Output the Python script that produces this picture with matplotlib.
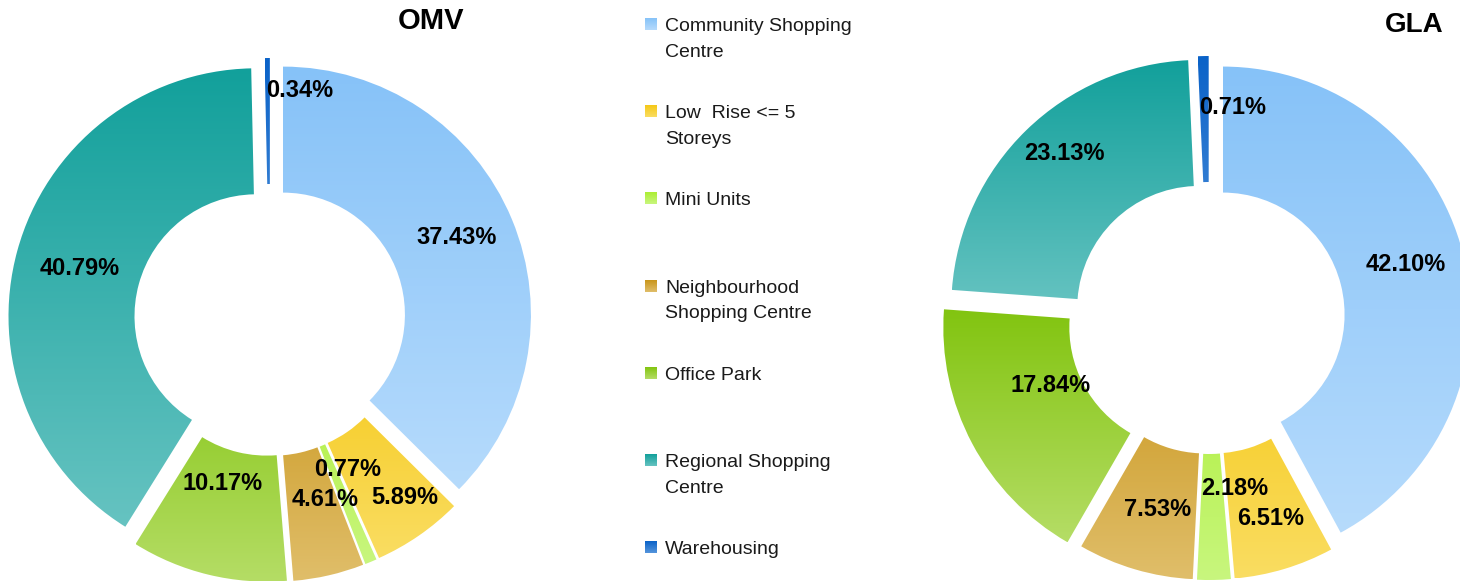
import matplotlib
matplotlib.use("Agg")
import matplotlib.pyplot as plt
import numpy as np
from matplotlib.colors import LinearSegmentedColormap
from matplotlib.patches import Rectangle

plt.rcParams["font.family"] = ["Liberation Sans", "DejaVu Sans"]

# data
categories = [
    "Community Shopping\nCentre",
    "Low  Rise <= 5\nStoreys",
    "Mini Units",
    "Neighbourhood\nShopping Centre",
    "Office Park",
    "Regional Shopping\nCentre",
    "Warehousing",
]
omv_pct = [37.43, 5.89, 0.77, 4.61, 10.17, 40.79, 0.34]
gla_pct = [42.10, 6.51, 2.18, 7.53, 17.84, 23.13, 0.71]

# gradient colours (top, bottom) per category
GRADIENTS = [
    ("#86c2f8", "#b6dbfc"),
    ("#f5c816", "#fadd62"),
    ("#acee33", "#c8f67e"),
    ("#c9951a", "#e0be6a"),
    ("#82c410", "#b5dd66"),
    ("#12a09b", "#66c3c1"),
    ("#0a62c8", "#5595dc"),
]

W, H = 1460, 581
R = 248
HOLE = 122
LABEL_R = 0.76

# pixel nudges for the percent labels (x, y up)
OMV_NUDGE = [(0, 5), (20, -11), (0, 37), (10, 18), (0, 33), (5, -2), (32, 27)]
GLA_NUDGE = [(0, 4), (3, -7), (22, 32), (6, 3), (26, 30), (-3, 19), (28, 8)]


def gradient_fill(ax, patch, top, bottom, verts=None):
    if verts is None:
        verts = patch.get_path().vertices
    x0, y0 = verts.min(axis=0)
    x1, y1 = verts.max(axis=0)
    cmap = LinearSegmentedColormap.from_list("g", [bottom, top])
    grad = np.linspace(0, 1, 256).reshape(-1, 1)
    im = ax.imshow(grad, cmap=cmap, extent=(x0, x1, y0, y1), origin="lower",
                   aspect="auto", interpolation="bilinear", zorder=1)
    im.set_clip_path(patch)


def donut(ax, values, center, explode, nudges):
    wedges, _ = ax.pie(values, radius=R, center=center, startangle=90,
                       counterclock=False, explode=explode,
                       wedgeprops=dict(width=R - HOLE, linewidth=0))
    for w, (top, bottom), val, (nx, ny) in zip(wedges, GRADIENTS, values, nudges):
        w.set_facecolor("none")
        w.set_edgecolor("none")
        gradient_fill(ax, w, top, bottom)
        tm = np.deg2rad((w.theta1 + w.theta2) / 2)
        cx, cy = w.center
        lx = cx + LABEL_R * R * np.cos(tm) + nx
        ly = cy + LABEL_R * R * np.sin(tm) + ny
        ax.text(lx, ly, f"{val:.2f}%", ha="center", va="center",
                fontsize=17, fontweight="bold", color="black", zorder=5)


fig = plt.figure(figsize=(W / 100, H / 100), dpi=100)
ax = fig.add_axes([0, 0, 1, 1])

donut(ax, omv_pct, (270, H - 320), [14] * 7, OMV_NUDGE)
donut(ax, gla_pct, (1209, H - 318), [14, 14, 14, 14, 20, 14, 14], GLA_NUDGE)

ax.text(431, H - 21, "OMV", ha="center", va="center", fontsize=21, fontweight="bold")
ax.text(1414, H - 25, "GLA", ha="center", va="center", fontsize=20, fontweight="bold")

# legend
for i, (name, (top, bottom)) in enumerate(zip(categories, GRADIENTS)):
    yc = H - (24 + i * 87.2)
    sq = Rectangle((645, yc - 6), 12, 12, facecolor="none", edgecolor="none")
    ax.add_patch(sq)
    gradient_fill(ax, sq, top, bottom, verts=np.array([[645, yc - 6], [657, yc + 6]]))
    ax.text(665, yc + 6, name, ha="left", va="top", fontsize=14,
            linespacing=1.68, color="#1a1a1a")

ax.set_xlim(0, W)
ax.set_ylim(0, H)
ax.set_aspect("auto")
ax.axis("off")

fig.savefig("out.png", dpi=100)
